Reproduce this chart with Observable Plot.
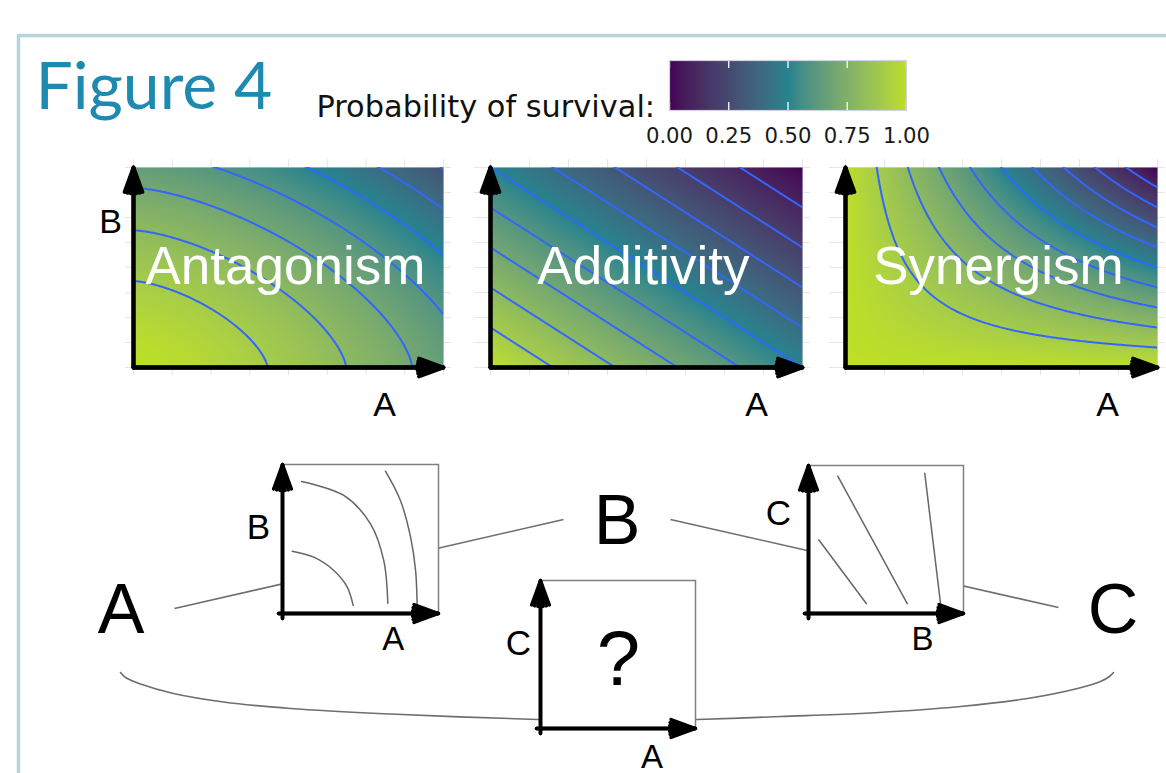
<!DOCTYPE html>
<html>
<head>
<meta charset="utf-8">
<script src="https://cdn.jsdelivr.net/npm/d3@7"></script>
<script src="https://cdn.jsdelivr.net/npm/@observablehq/plot@0.6"></script>
<style>
  html, body { margin: 0; padding: 0; background: #fff; overflow: hidden; }
  #root { position: relative; width: 1166px; height: 773px; overflow: hidden; background: #fff; }
  #root svg { overflow: visible; }
</style>
</head>
<body>
<div id="root"></div>
<script>
// ---------------- DATA ----------------
const figureTitle = "Figure 4";
const legendTitle = "Probability of survival:";
const legendBreaks = [0, 0.25, 0.5, 0.75, 1];
const legendLabels = ["0.00", "0.25", "0.50", "0.75", "1.00"];
const panelNames = ["Antagonism", "Additivity", "Synergism"];
const contourLevels = [0.1, 0.2, 0.3, 0.4, 0.5, 0.6, 0.7, 0.8, 0.9];
const gridBreaks = [0, 0.125, 0.25, 0.375, 0.5, 0.625, 0.75, 0.875, 1];
// survival surface of each interaction type, A and B doses in [0, 1]
const survivalModels = {
  Antagonism: (a, b) => 1 - 0.352 * (Math.max(a, 0) ** 1.5 + Math.max(b, 0) ** 1.5),
  Additivity: (a, b) => 1 - (a + b) / 2,
  Synergism: (a, b) => 1 - Math.max(a, 0) * Math.max(b, 0)
};
// diagram: drug nodes, pairwise links and the A–C arc (diagram units)
const nodeLabels = ["A", "B", "C"];
const nodeX = [120.5, 616.5, 1112.5];
const nodeY = [632, 543, 632];
const linkAB = [[174, 608], [563, 519]];
const linkBC = [[670, 519], [1058, 607]];
const arcAC = [[120, 672], [125, 677], [140, 683.5], [173, 693], [223, 701.5], [290, 708], [390, 713.5],
               [537, 719], [617, 720.5], [697, 719], [780, 716], [860, 713], [960, 706], [1027, 698],
               [1077, 688], [1100, 681], [1109, 676], [1113, 672]];
// isobole sketches inside the small boxes (box units 0..1)
const isobolesAB = [
  [[0.062, 0.418], [0.201, 0.378], [0.329, 0.289], [0.415, 0.177], [0.453, 0.054]],
  [[0.122, 0.886], [0.393, 0.792], [0.564, 0.602], [0.649, 0.356], [0.675, 0.069]],
  [[0.660, 0.955], [0.756, 0.758], [0.821, 0.512], [0.853, 0.289], [0.863, 0.065]]
];
const isobolesBC = [
  [[0.066, 0.498], [0.374, 0.066]],
  [[0.189, 0.928], [0.637, 0.066]],
  [[0.750, 0.948], [0.852, 0.066]]
];
const isobolesAC = [];
const unknownMark = "?";

// ---------------- LAYOUT / STYLE ----------------
const root = document.getElementById("root");
function place(node, left, top) {
  node.style.position = "absolute";
  node.style.left = left + "px";
  node.style.top = top + "px";
  root.appendChild(node);
}
const paletteStops = [d3.interpolateViridis(0), d3.interpolateViridis(0.45), d3.interpolateViridis(0.9)];
const paletteInterp = d3.piecewise(d3.interpolateLab, paletteStops);
const colorScale = {type: "linear", domain: [0, 1], interpolate: t => paletteInterp(Math.max(0, Math.min(1, t)))};
const SANS = "Liberation Sans, Arial, sans-serif";
const axisArrows = [{x1: 0, y1: 0, x2: 1, y2: 0}, {x1: 0, y1: 0, x2: 0, y2: 1}];
const arrowStyle = {x1: "x1", y1: "y1", x2: "x2", y2: "y2", stroke: "black", strokeLinejoin: "miter"};
// a bold arrow: outer chevron plus narrower inner chevrons to fill the head
function boldArrows(data, sw, hl) {
  return [40, 26, 12].map(angle => Plot.arrow(data, {...arrowStyle, strokeWidth: sw, headLength: hl, headAngle: angle}));
}

// ---------- background canvas: frame, titles, diagram links ----------
const canvas = Plot.plot({
  width: 1166, height: 773, margin: 0,
  x: {domain: [0, 1166], range: [0, 1166], axis: null},
  y: {domain: [0, 773], range: [0, 773], axis: null},
  style: {background: "white"},
  marks: [
    Plot.line([[1180, 35], [18, 35], [18, 790]], {stroke: "#b4d4de", strokeWidth: 3.5}),
    Plot.text([figureTitle], {x: 35, y: 108, textAnchor: "start", lineAnchor: "bottom",
      fontSize: 66, fontFamily: "Lato, sans-serif", fill: "#1f8ab0"}),
    Plot.text([legendTitle], {x: 316, y: 116, textAnchor: "start", lineAnchor: "bottom",
      fontSize: 30.4, fontFamily: "DejaVu Sans", fill: "#111"}),
    Plot.link([linkAB, linkBC], {x1: d => d[0][0], y1: d => d[0][1], x2: d => d[1][0], y2: d => d[1][1],
      stroke: "#6e6e6e", strokeWidth: 1.6}),
    Plot.line(arcAC, {curve: "catmull-rom", stroke: "#6e6e6e", strokeWidth: 1.6}),
    Plot.text(nodeLabels, {x: (d, i) => nodeX[i], y: (d, i) => nodeY[i], text: d => d,
      lineAnchor: "bottom", fontSize: 70, fontFamily: SANS, fill: "black"})
  ]
});
place(canvas, 0, 0);

// ---------- colour bar ----------
const colorbar = Plot.plot({
  width: 237 + 60, height: 50 + 45, marginLeft: 30, marginRight: 30, marginTop: 0, marginBottom: 45,
  x: {domain: [0, 1], axis: null}, y: {domain: [0, 1], axis: null},
  color: colorScale,
  style: {background: "transparent"},
  marks: [
    Plot.raster({x1: 0, y1: 0, x2: 1, y2: 1, fill: (x, y) => x}),
    Plot.ruleX(legendBreaks, {y1: 1, y2: 0.84, stroke: "white", strokeWidth: 1.3}),
    Plot.ruleX(legendBreaks, {y1: 0, y2: 0.16, stroke: "white", strokeWidth: 1.3}),
    Plot.frame({stroke: "#d4d2e2", strokeWidth: 1.2}),
    Plot.text(legendBreaks, {x: d => d, y: 0, dy: 32, text: (d, i) => legendLabels[i], lineAnchor: "bottom",
      fontSize: 21.2, fontFamily: "DejaVu Sans", fill: "#1a1a1a"})
  ]
});
place(colorbar, 639, 60);

// ---------- heat map panels ----------
const panelLayout = [
  {x: 133, y: 167, w: 310, h: 200, stubL: 8, aX: 0.81, bLabel: true},
  {x: 490, y: 167, w: 312, h: 200, stubL: 16, aX: 0.853, bLabel: false},
  {x: 845, y: 167, w: 312, h: 200, stubL: 16, aX: 0.84, bLabel: false}
];
panelNames.forEach((name, i) => {
  const lay = panelLayout[i];
  const f = survivalModels[name];
  const mL = 60, mR = 16, mT = 14, mB = 56;
  const marks = [
    Plot.ruleX(gridBreaks, {y1: -8 / lay.h, y2: 1 + 8 / lay.h, stroke: "#e6e6e6", strokeWidth: 1.1}),
    Plot.ruleY(gridBreaks, {x1: -lay.stubL / lay.w, x2: 1 + 8 / lay.w, stroke: "#e6e6e6", strokeWidth: 1.1}),
    Plot.raster({x1: 0, y1: 0, x2: 1, y2: 1, fill: f, pixelSize: 1}),
    Plot.contour({x1: -0.1, y1: -0.1, x2: 1.1, y2: 1.1, value: f, thresholds: contourLevels,
      fill: "none", stroke: "#3366ff", strokeWidth: 2, clip: "frame", pixelSize: 1}),
    Plot.text([name], {x: 0.49, y: 0.42, lineAnchor: "bottom", fontSize: 53, fontFamily: SANS, fill: "white"}),
    ...boldArrows(axisArrows, 3.8, 10.3),
    Plot.text(["A"], {x: lay.aX, y: 0, dy: 48, lineAnchor: "bottom", fontSize: 34, fontFamily: SANS, fill: "black"})
  ];
  if (lay.bLabel) marks.push(Plot.text(["B"], {x: 0, y: 0.675, dx: -23, lineAnchor: "bottom",
    fontSize: 34, fontFamily: SANS, fill: "black"}));
  const svg = Plot.plot({
    width: lay.w + mL + mR, height: lay.h + mT + mB,
    marginLeft: mL, marginRight: mR, marginTop: mT, marginBottom: mB,
    x: {domain: [0, 1], axis: null}, y: {domain: [0, 1], axis: null},
    color: colorScale,
    style: {background: "transparent"},
    marks
  });
  place(svg, lay.x - mL, lay.y - mT);
});

// ---------- small isobole boxes ----------
const boxes = [
  {x: 282, y: 464, w: 156, h: 149, curves: isobolesAB, curve: "catmull-rom",
   yLab: "B", yLabY: 0.497, yLabDx: -24, xLab: "A", xLabX: 0.71, xLabDy: 36},
  {x: 808, y: 465, w: 155, h: 148, curves: isobolesBC, curve: "linear",
   yLab: "C", yLabY: 0.595, yLabDx: -30, xLab: "B", xLabX: 0.735, xLabDy: 36},
  {x: 540, y: 580, w: 155, h: 148, curves: isobolesAC, curve: "linear",
   yLab: "C", yLabY: 0.5, yLabDx: -22, xLab: "A", xLabX: 0.72, xLabDy: 39, center: unknownMark}
];
const boxArrows = [{x1: -0.026, y1: 0, x2: 1, y2: 0}, {x1: 0, y1: -0.034, x2: 0, y2: 1}];
boxes.forEach(b => {
  const mL = 46, mR = 10, mT = 10, mB = 50;
  const marks = [
    Plot.frame({fill: "white", stroke: "#808080", strokeWidth: 1.5}),
    ...b.curves.map(pts => Plot.line(pts, {curve: b.curve, stroke: "#666", strokeWidth: 1.5})),
    ...boldArrows(boxArrows, 3.4, 11.5),
    Plot.text([b.yLab], {x: 0, y: b.yLabY, dx: b.yLabDx, lineAnchor: "bottom", fontSize: 35, fontFamily: SANS, fill: "black"}),
    Plot.text([b.xLab], {x: b.xLabX, y: 0, dy: b.xLabDy, lineAnchor: "bottom", fontSize: 33, fontFamily: SANS, fill: "black"})
  ];
  if (b.center) marks.push(Plot.text([b.center], {x: 0.503, y: 0.297, lineAnchor: "bottom", fontSize: 78, fontFamily: SANS, fill: "black"}));
  const svg = Plot.plot({
    width: b.w + mL + mR, height: b.h + mT + mB,
    marginLeft: mL, marginRight: mR, marginTop: mT, marginBottom: mB,
    x: {domain: [0, 1], axis: null}, y: {domain: [0, 1], axis: null},
    style: {background: "transparent"},
    marks
  });
  place(svg, b.x - mL, b.y - mT);
});
</script>
</body>
</html>
